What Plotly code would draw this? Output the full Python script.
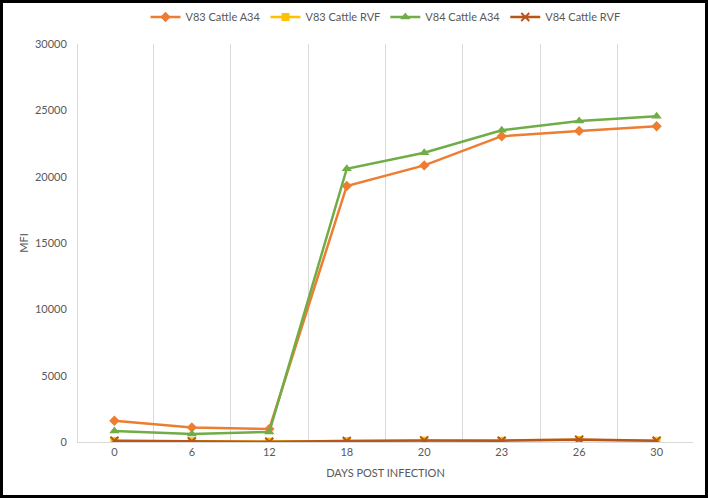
import plotly.graph_objects as go

# days post infection (categories)
days = ["0", "6", "12", "18", "20", "23", "26", "30"]

v83_a34 = [1600, 1100, 980, 19300, 20850, 23050, 23450, 23800]
v83_rvf = [80, 60, 30, 70, 100, 90, 150, 90]
v84_a34 = [830, 600, 760, 20600, 21800, 23500, 24200, 24550]
v84_rvf = [100, 50, 20, 80, 120, 100, 180, 100]

y_ticks = [0, 5000, 10000, 15000, 20000, 25000, 30000]

font_color = '#595959'
grid_color = '#D9D9D9'

fig = go.Figure()

fig.add_trace(go.Scatter(x=days, y=v83_a34, mode='lines+markers', name='V83 Cattle A34',
                         line=dict(color='#ED7D31', width=2.5),
                         marker=dict(symbol='diamond', size=8, color='#ED7D31')))
fig.add_trace(go.Scatter(x=days, y=v83_rvf, mode='lines+markers', name='V83 Cattle RVF',
                         line=dict(color='#FFC000', width=2.5),
                         marker=dict(symbol='square', size=8, color='#FFC000')))
fig.add_trace(go.Scatter(x=days, y=v84_a34, mode='lines+markers', name='V84 Cattle A34',
                         line=dict(color='#70AD47', width=2.5),
                         marker=dict(symbol='triangle-up', size=9, color='#70AD47')))
fig.add_trace(go.Scatter(x=days, y=v84_rvf, mode='lines+markers', name='V84 Cattle RVF',
                         line=dict(color='#B8561A', width=2.5),
                         marker=dict(symbol='x-thin-open', size=8, color='#B8561A',
                                     line=dict(color='#B8561A', width=2))))

# plot area: x 78..693, y 44..442 in a 708x498 page
pw, ph = 615, 398
ml, mr, mt, mb = 78, 15, 44, 56

# black frame around the whole picture
fig.add_shape(type='rect', xref='paper', yref='paper',
              x0=(1.5 - ml) / pw, x1=(706.5 - ml) / pw,
              y0=-(mb - 1.5) / ph, y1=1 + (mt - 1.5) / ph,
              line=dict(color='black', width=3), fillcolor='rgba(0,0,0,0)', layer='above')

fig.update_layout(
    width=708, height=498,
    margin=dict(l=ml, r=mr, t=mt, b=mb, autoexpand=False),
    font=dict(family='Lato', size=11, color=font_color),
    plot_bgcolor='white', paper_bgcolor='white',
    showlegend=True,
    legend=dict(orientation='h', x=0.5, xanchor='center', y=1 + 27 / ph, yanchor='middle',
                font=dict(size=11, color=font_color), itemwidth=30, traceorder='normal'),
    xaxis=dict(type='category', tickson='boundaries', ticks='', showgrid=True,
               gridcolor=grid_color, gridwidth=1, showline=True, linecolor=grid_color,
               title=dict(text='DAYS POST INFECTION', font=dict(size=11, color=font_color), standoff=12),
               tickfont=dict(size=11, color=font_color)),
    yaxis=dict(range=[0, 30000], tickvals=y_ticks, tickformat='d', showgrid=False, zeroline=False,
               showline=True, linecolor=grid_color, ticks='', ticklabelstandoff=8,
               title=dict(text='MFI', font=dict(size=11, color=font_color), standoff=4),
               tickfont=dict(size=11, color=font_color)),
)

fig.write_html("out.html", config={'displayModeBar': False},
               post_script="document.body.style.margin='0';")
